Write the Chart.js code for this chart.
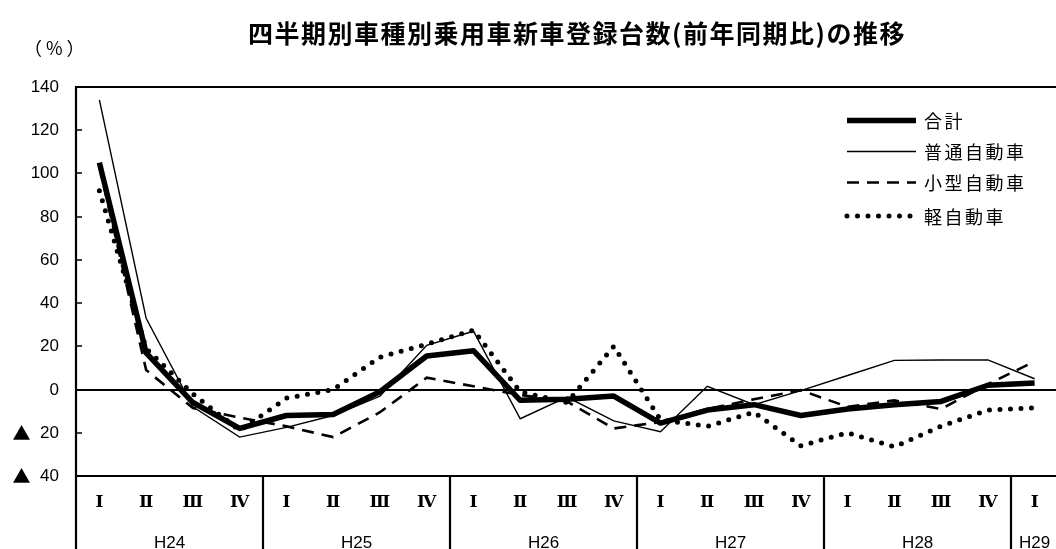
<!DOCTYPE html>
<html>
<head>
<meta charset="utf-8">
<script src="https://cdn.jsdelivr.net/npm/chart.js@4.4.0/dist/chart.umd.min.js"></script>
<style>
  html, body { margin: 0; padding: 0; overflow: hidden; background: #fff; }
  canvas { display: block; }
</style>
</head>
<body>
<canvas id="chart" width="1062" height="549"></canvas>
<script>
// Quarter labels (Ⅰ–Ⅳ) and the fiscal year each group of quarters belongs to
const quarterLabels = ['Ⅰ','Ⅱ','Ⅲ','Ⅳ','Ⅰ','Ⅱ','Ⅲ','Ⅳ','Ⅰ','Ⅱ','Ⅲ','Ⅳ','Ⅰ','Ⅱ','Ⅲ','Ⅳ','Ⅰ','Ⅱ','Ⅲ','Ⅳ','Ⅰ'];
const yearLabels = ['H24','H25','H26','H27','H28','H29'];
const quartersPerYear = [4, 4, 4, 4, 4, 1];

// Year-on-year change of new passenger car registrations (%)
const goukei = [105, 17, -6, -18, -12, -11.5, -1, 15.5, 18, -5, -4.5, -3, -15.5, -9.5, -7, -12, -9, -7, -5.5, 2, 3];
const futsuu = [134, 33, -8, -22, -17.5, -12, -3, 20.5, 27, -13.5, -3.5, -14.5, -19.5, 1.5, -7, -0.5, 6.5, 13.5, 13.7, 13.7, 5];
const kogata = [103, 9, -8.5, -13, -17, -22, -10.5, 5.5, 1.5, -2.5, -5.5, -18, -15, -9, -4.5, -0.3, -8, -5, -9, 2.5, 13];
const kei    = [92, 19, -2, -19, -4, 0, 15, 21, 27.5, -1, -6, 20, -14, -17, -10.5, -26, -20, -26.5, -17, -9.5, -8.5];

const seriesNames = ['合計', '普通自動車', '小型自動車', '軽自動車'];

// Value axis (negative values are written with a ▲ mark)
const yMin = -40, yMax = 140, yStep = 20;
const negativeMark = '▲';

const titleText = '四半期別車種別乗用車新車登録台数(前年同期比)の推移';
const unitText = '（%）';

const JP = "'Noto Sans CJK JP', sans-serif";
const NUM = "'Liberation Sans', Arial, sans-serif";

function strokeLine(ctx, x1, y1, x2, y2) {
  ctx.beginPath();
  ctx.moveTo(x1, y1);
  ctx.lineTo(x2, y2);
  ctx.stroke();
}

// Zero line, inner tick marks and value labels, drawn under the series
const gridPlugin = {
  id: 'gridUnder',
  beforeDatasetsDraw(chart) {
    const { ctx, chartArea: a, scales: { y } } = chart;
    ctx.save();
    ctx.strokeStyle = '#000';
    ctx.fillStyle = '#000';
    ctx.lineWidth = 2;
    const y0 = Math.round(y.getPixelForValue(0));
    strokeLine(ctx, a.left, y0, chart.width, y0);
    ctx.lineWidth = 1.5;
    ctx.textBaseline = 'middle';
    y.ticks.forEach((t) => {
      const py = Math.round(y.getPixelForValue(t.value));
      strokeLine(ctx, a.left, py, a.left + 6, py);
      ctx.textAlign = 'right';
      ctx.font = '17px ' + NUM;
      ctx.fillText(String(Math.abs(t.value)), 59, py);
      if (t.value < 0) {
        ctx.textAlign = 'center';
        ctx.font = '18px ' + JP;
        ctx.fillText(negativeMark, 21.5, py);
      }
    });
    ctx.restore();
  }
};

// Frame, category table, legend and titles
const decorPlugin = {
  id: 'decor',
  afterDatasetsDraw(chart) {
    const { ctx, chartArea: a, scales: { x } } = chart;
    const W = chart.width, H = chart.height;
    ctx.save();
    ctx.strokeStyle = '#000';
    ctx.fillStyle = '#000';
    ctx.lineWidth = 2.2;
    // frame
    strokeLine(ctx, a.left, a.top, W, a.top);
    strokeLine(ctx, a.left, a.top - 1, a.left, H);
    strokeLine(ctx, a.left, a.bottom, W, a.bottom);

    // quarter labels
    ctx.textAlign = 'center';
    ctx.textBaseline = 'middle';
    ctx.font = "bold 17px 'DejaVu Serif', serif";
    quarterLabels.forEach((q, i) => {
      ctx.fillText(q, x.getPixelForValue(i), a.bottom + 27);
    });

    // year groups
    ctx.font = '17px ' + NUM;
    let start = 0;
    yearLabels.forEach((yl, g) => {
      const end = start + quartersPerYear[g];
      const cx = (x.getPixelForValue(start) + x.getPixelForValue(end - 1)) / 2;
      ctx.fillText(yl, cx, a.bottom + 67);
      if (end < quarterLabels.length) {
        const bx = Math.round((x.getPixelForValue(end - 1) + x.getPixelForValue(end)) / 2);
        ctx.lineWidth = 2.2;
        strokeLine(ctx, bx, a.bottom, bx, H);
      }
      start = end;
    });

    // legend
    const rowsY = [120.5, 151.5, 182.5, 216];
    const sx1 = 847, sx2 = 916, tx = 924;
    chart.data.datasets.forEach((ds, i) => {
      const ly = rowsY[i];
      ctx.save();
      ctx.lineWidth = ds.borderWidth;
      ctx.lineCap = ds.borderCapStyle || 'butt';
      ctx.setLineDash(ds.borderDash || []);
      strokeLine(ctx, sx1, ly, sx2, ly);
      ctx.restore();
      ctx.save();
      ctx.font = '18px ' + JP;
      ctx.textAlign = 'left';
      ctx.textBaseline = 'middle';
      ctx.letterSpacing = '2.5px';
      ctx.fillText(ds.label, tx, ly + 1);
      ctx.restore();
    });

    // title
    ctx.save();
    ctx.font = 'bold 25px ' + JP;
    ctx.textAlign = 'center';
    ctx.textBaseline = 'middle';
    ctx.letterSpacing = '1.5px';
    ctx.fillText(titleText, 577, 33);
    ctx.restore();

    // unit
    ctx.save();
    ctx.font = '18px ' + JP;
    ctx.textAlign = 'left';
    ctx.textBaseline = 'middle';
    ctx.letterSpacing = '4px';
    ctx.fillText(unitText, 24, 48);
    ctx.restore();

    ctx.restore();
  }
};

const common = { pointRadius: 0, pointHoverRadius: 0, tension: 0, fill: false, borderColor: '#000', backgroundColor: '#000' };

new Chart(document.getElementById('chart'), {
  type: 'line',
  data: {
    labels: quarterLabels,
    datasets: [
      { ...common, label: seriesNames[0], data: goukei, borderWidth: 5.5, borderJoinStyle: 'round' },
      { ...common, label: seriesNames[1], data: futsuu, borderWidth: 1.4 },
      { ...common, label: seriesNames[2], data: kogata, borderWidth: 2.6, borderDash: [12, 8] },
      { ...common, label: seriesNames[3], data: kei, borderWidth: 5, borderDash: [0, 10.5], borderCapStyle: 'round' }
    ]
  },
  options: {
    responsive: false,
    devicePixelRatio: 1,
    animation: false,
    layout: { padding: { top: 87, bottom: 73, left: 0, right: 4 } },
    plugins: { legend: { display: false }, title: { display: false }, tooltip: { enabled: false } },
    scales: {
      x: { type: 'category', offset: true, display: false },
      y: {
        min: yMin, max: yMax,
        grid: { display: false, drawTicks: false },
        border: { display: false },
        afterFit(scale) { scale.width = 76; },
        ticks: { stepSize: yStep, display: false }
      }
    }
  },
  plugins: [gridPlugin, decorPlugin]
});
</script>
</body>
</html>
